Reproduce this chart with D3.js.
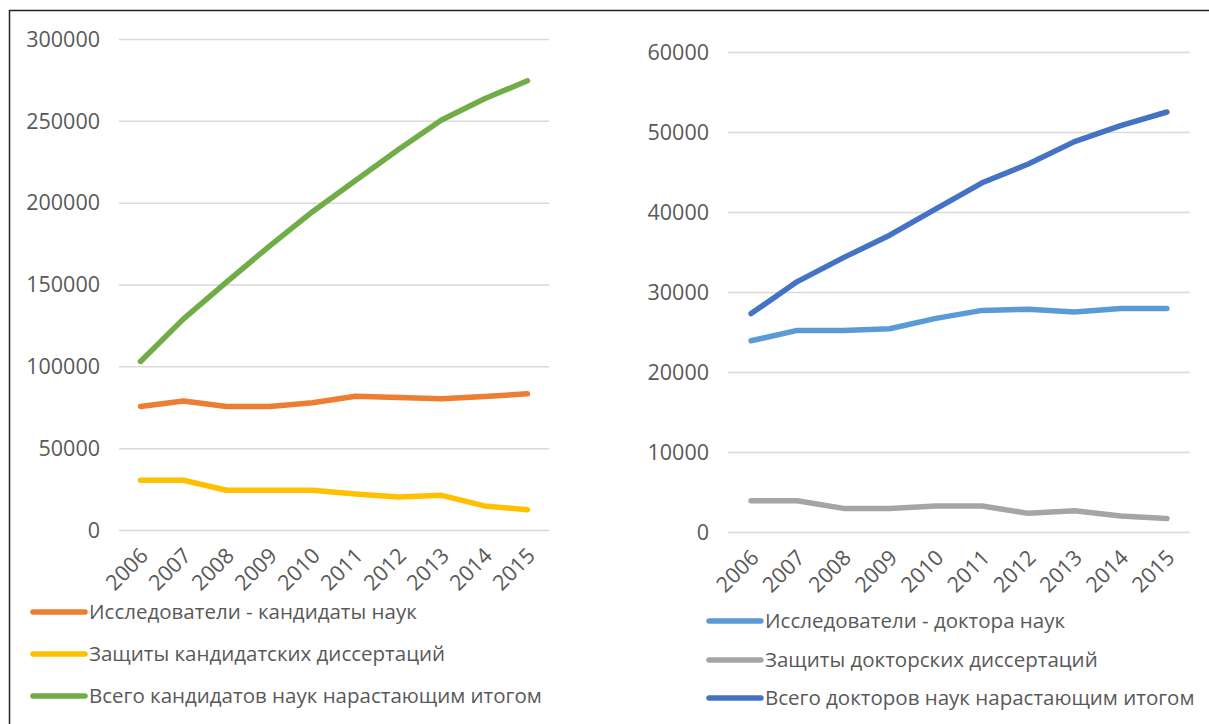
<!DOCTYPE html>
<html>
<head>
<meta charset="utf-8">
<script src="https://cdn.jsdelivr.net/npm/d3@7"></script>
<style>
  html, body { margin: 0; padding: 0; background: #fff; }
  svg { display: block; }
  text { font-family: "Open Sans", "Noto Sans", sans-serif; fill: #595959; }
</style>
</head>
<body>
<svg id="chart" width="1209" height="724"></svg>
<script>
const years = ["2006","2007","2008","2009","2010","2011","2012","2013","2014","2015"];

// Left chart (candidates of science)
const candResearchers = [75500, 78800, 75400, 75500, 77800, 81700, 81000, 80200, 81600, 83200];
const candDefenses    = [30400, 30400, 24300, 24300, 24300, 22000, 20200, 21200, 14700, 12400];
const candTotal       = [103000, 129000, 151500, 173500, 194500, 213500, 232500, 250500, 263500, 274500];
const leftTicks = [0, 50000, 100000, 150000, 200000, 250000, 300000];
const leftNames = ["Исследователи - кандидаты наук", "Защиты кандидатских диссертаций", "Всего кандидатов наук нарастающим итогом"];

// Right chart (doctors of science)
const docResearchers = [23900, 25200, 25200, 25400, 26700, 27700, 27850, 27500, 27950, 27950];
const docDefenses    = [3900, 3900, 2950, 2950, 3250, 3250, 2330, 2660, 2000, 1680];
const docTotal       = [27300, 31300, 34300, 37100, 40400, 43650, 46000, 48800, 50800, 52500];
const rightTicks = [0, 10000, 20000, 30000, 40000, 50000, 60000];
const rightNames = ["Исследователи - доктора наук", "Защиты докторских диссертаций", "Всего докторов наук нарастающим итогом"];

const leftColors  = ["#ED7D31", "#FFC000", "#70AD47"];
const rightColors = ["#5B9BD5", "#A5A5A5", "#4472C4"];

const svg = d3.select("#chart");
svg.append("rect").attr("width", 1209).attr("height", 724).attr("fill", "#fff");
// screenshot frame (top and left edges)
svg.append("line").attr("x1", 9).attr("x2", 1209).attr("y1", 10.5).attr("y2", 10.5).attr("stroke", "#222").attr("stroke-width", 1.5);
svg.append("line").attr("x1", 9.5).attr("x2", 9.5).attr("y1", 10).attr("y2", 724).attr("stroke", "#222").attr("stroke-width", 1.5);

function drawChart(cfg) {
  const g = svg.append("g");
  const x = d3.scaleBand().domain(years).range([cfg.x0, cfg.x1]);
  const y = d3.scaleLinear().domain([0, cfg.ticks[cfg.ticks.length - 1]]).range([cfg.y0, cfg.y1]);

  // gridlines via axis
  const grid = g.append("g").attr("transform", `translate(${cfg.x0},0)`)
    .call(d3.axisLeft(y).tickValues(cfg.ticks).tickSize(-(cfg.x1 - cfg.x0)).tickFormat(""));
  grid.select(".domain").remove();
  grid.selectAll(".tick line").attr("stroke", "#d9d9d9").attr("stroke-width", 1.5);

  // y labels
  const ya = g.append("g").attr("transform", `translate(${cfg.x0 - 19},0)`)
    .call(d3.axisLeft(y).tickValues(cfg.ticks).tickSize(0).tickPadding(0).tickFormat(d3.format("d")));
  ya.select(".domain").remove();
  ya.selectAll("text").attr("font-size", 21.5).attr("fill", "#595959")
    .attr("font-family", '"Open Sans", "Noto Sans", sans-serif').attr("dy", "0.34em");

  // x labels
  const xa = g.append("g").attr("transform", `translate(0,${cfg.y0})`)
    .call(d3.axisBottom(x).tickSize(0).tickPadding(0));
  xa.select(".domain").remove();
  xa.selectAll("text")
    .attr("font-size", 21.5).attr("fill", "#595959")
    .attr("font-family", '"Open Sans", "Noto Sans", sans-serif')
    .attr("text-anchor", "end").attr("dy", null).attr("y", 0)
    .attr("transform", "translate(9,27) rotate(-45)");

  const line = d3.line().x((d, i) => x(years[i]) + x.bandwidth() / 2).y(d => y(d));
  cfg.series.forEach((s, i) => {
    g.append("path").datum(s).attr("d", line).attr("fill", "none")
      .attr("stroke", cfg.colors[i]).attr("stroke-width", 5.5)
      .attr("stroke-linejoin", "round").attr("stroke-linecap", "round");
  });

  // legend
  cfg.names.forEach((n, i) => {
    const ly = cfg.legendY[i];
    g.append("line").attr("x1", cfg.legX).attr("x2", cfg.legX + 52).attr("y1", ly).attr("y2", ly)
      .attr("stroke", cfg.colors[i]).attr("stroke-width", 5.5).attr("stroke-linecap", "round");
    g.append("text").attr("x", cfg.legX + 56).attr("y", ly).attr("dy", "0.36em")
      .attr("font-size", 20.5).text(n);
  });
}

drawChart({
  x0: 119, x1: 549, y0: 530, y1: 39,
  ticks: leftTicks, series: [candResearchers, candDefenses, candTotal],
  colors: leftColors, names: leftNames, legX: 33, legendY: [612, 654, 696]
});
drawChart({
  x0: 728, x1: 1190, y0: 532, y1: 52,
  ticks: rightTicks, series: [docResearchers, docDefenses, docTotal],
  colors: rightColors, names: rightNames, legX: 709, legendY: [621, 660, 698]
});
</script>
</body>
</html>
